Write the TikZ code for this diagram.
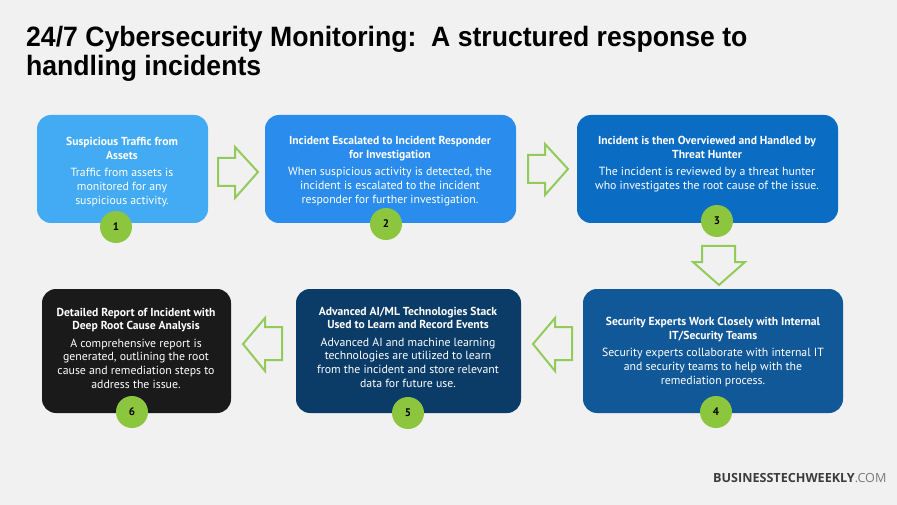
\documentclass[tikz,border=0pt]{standalone}
\usepackage{fontspec}
\setmainfont{PT Sans}
\newfontfamily\titlefont[FakeStretch=0.95]{Liberation Sans}
\newfontfamily\markfont{Open Sans}
\definecolor{bg}{HTML}{F1F1F1}
\definecolor{cA}{HTML}{43AAF4}
\definecolor{cB}{HTML}{2A8CEC}
\definecolor{cC}{HTML}{0B6CC3}
\definecolor{cD}{HTML}{115898}
\definecolor{cE}{HTML}{0B3C68}
\definecolor{cF}{HTML}{1B1A1A}
\definecolor{grn}{HTML}{8CC63F}
\definecolor{agrn}{HTML}{93CB5A}
\definecolor{wmdark}{HTML}{3C3C3C}
\definecolor{wmlight}{HTML}{7A7A7A}
\newcommand{\hd}[1]{{\fontsize{11.6}{13.5}\selectfont\bfseries #1}}
\begin{document}
\begin{tikzpicture}[x=1pt,y=-1pt,
  box/.style={rectangle, rounded corners=14pt, draw=none, inner sep=0pt},
  txt/.style={align=center, text=white, inner sep=0pt, font=\fontsize{11.8}{13.6}\selectfont},
  num/.style={circle, fill=grn, minimum size=32pt, inner sep=0pt, text=black, font=\bfseries\fontsize{11}{11}\selectfont},
  blockarrow/.style={draw=agrn, line width=2pt, line join=miter, fill=none}]
\fill[bg] (0,0) rectangle (897,505);
\useasboundingbox (0,0) rectangle (897,505);

\node[anchor=north west, inner sep=0pt, align=left, font=\titlefont\bfseries\fontsize{28}{29}\selectfont] (title) at (26,26)
  {24/7 Cybersecurity Monitoring:\ \ A structured response to\\handling incidents};

% boxes
\node[box, fill=cA, minimum width=171pt, minimum height=108pt] (b1) at (122.5,169) {};
\node[box, fill=cB, minimum width=251pt, minimum height=108pt] (b2) at (390.5,169) {};
\node[box, fill=cC, minimum width=261pt, minimum height=108pt] (b3) at (707.5,169) {};
\node[box, fill=cD, minimum width=260pt, minimum height=124pt] (b4) at (713,351) {};
\node[box, fill=cE, minimum width=225pt, minimum height=124pt] (b5) at (408.5,351) {};
\node[box, fill=cF, minimum width=189pt, minimum height=124pt] (b6) at (136.5,351) {};

% texts
\node[txt] (t1) at (122,172) {\hd{Suspicious Traffic from}\\\hd{Assets}\\[4pt]Traffic from assets is\\monitored for any\\suspicious activity.};
\node[txt] (t2) at (390,171) {\hd{Incident Escalated to Incident Responder}\\\hd{for Investigation}\\[4pt]When suspicious activity is detected, the\\incident is escalated to the incident\\responder for further investigation.};
\node[txt] (t3) at (707,164) {\hd{Incident is then Overviewed and Handled by}\\\hd{Threat Hunter}\\[4pt]The incident is reviewed by a threat hunter\\who investigates the root cause of the issue.};
\node[txt] (t4) at (713,352) {\hd{Security Experts Work Closely with Internal}\\\hd{IT/Security Teams}\\[4pt]Security experts collaborate with internal IT\\and security teams to help with the\\remediation process.};
\node[txt] (t5) at (408,347) {\hd{Advanced AI/ML Technologies Stack}\\\hd{Used to Learn and Record Events}\\[4pt]Advanced AI and machine learning\\technologies are utilized to learn\\from the incident and store relevant\\data for future use.};
\node[txt] (t6) at (136,348) {\hd{Detailed Report of Incident with}\\\hd{Deep Root Cause Analysis}\\[4pt]A comprehensive report is\\generated, outlining the root\\cause and remediation steps to\\address the issue.};

% number badges
\node[num] (n1) at (116,227) {1};
\node[num] (n2) at (386,224) {2};
\node[num] (n3) at (717,221) {3};
\node[num] (n4) at (716,412) {4};
\node[num] (n5) at (408,413) {5};
\node[num] (n6) at (132,412) {6};

% block arrows
\draw[blockarrow] (218,158) -- (235,158) -- (235,147) -- (258,172) -- (235,198) -- (235,186) -- (218,186) -- cycle;
\draw[blockarrow] (528,155) -- (545,155) -- (545,144) -- (568,169) -- (545,195) -- (545,183) -- (528,183) -- cycle;
\draw[blockarrow] (702,246) -- (735,246) -- (735,262) -- (745,262) -- (719,285) -- (693,262) -- (702,262) -- cycle;
\draw[blockarrow] (572,327) -- (555,327) -- (555,318) -- (533,344) -- (555,371) -- (555,360) -- (572,360) -- cycle;
\draw[blockarrow] (282,327) -- (265,327) -- (265,318) -- (243,344) -- (265,371) -- (265,360) -- (282,360) -- cycle;

% watermark
\node[anchor=west, inner sep=0pt, font=\markfont\fontsize{12.6}{12.6}\selectfont] (wm) at (713,478)
  {\textcolor{wmdark}{\bfseries BUSINESSTECHWEEKLY}\textcolor{wmlight}{.COM}};
\end{tikzpicture}
\end{document}
